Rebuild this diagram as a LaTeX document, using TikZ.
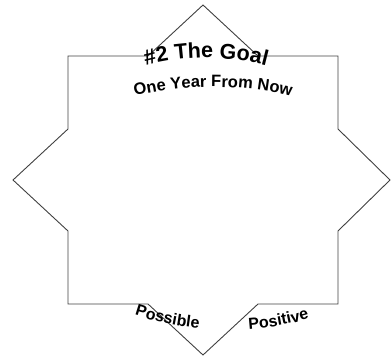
\documentclass[tikz,border=0pt]{standalone}
\usepackage{fontspec}
\setmainfont{Liberation Sans}
\usetikzlibrary{decorations.text}

\begin{document}
\begin{tikzpicture}[
  x=1pt, y=1pt,
  outline/.style={draw=black!75, line width=0.9pt, line join=miter},
  curved/.style={decorate, decoration={text along path, text align=center, text={#1}}}]
\useasboundingbox (0,0) rectangle (391,358);
\draw[outline] (203,353) -- (258,302) -- (338,302) -- (338,229) -- (390,178)
  -- (338,127) -- (338,54) -- (258,54) -- (203,3) -- (148,54) -- (68,54)
  -- (68,127) -- (13,178) -- (68,229) -- (68,302) -- (148,302) -- cycle;
\coordinate (goal c) at (206,64);
\coordinate (year c) at (213,-80);
\coordinate (low c) at (228,324);
\path[curved={|\fontsize{21.5}{21.5}\selectfont\bfseries|{\#}2 The Goal}]
  ([shift={(107:236)}]goal c) arc[start angle=107, end angle=73, radius=236];
\path[curved={|\fontsize{16.5}{16.5}\selectfont\bfseries|One Year From Now}]
  ([shift={(104:351)}]year c) arc[start angle=104, end angle=76, radius=351];
\path[curved={|\fontsize{16}{16}\selectfont\bfseries|Possible}]
  ([shift={(249:296)}]low c) arc[start angle=249, end angle=267, radius=296];
\path[curved={|\fontsize{16}{16}\selectfont\bfseries|Positive}]
  ([shift={(271:296)}]low c) arc[start angle=271, end angle=289, radius=296];
\end{tikzpicture}
\end{document}
